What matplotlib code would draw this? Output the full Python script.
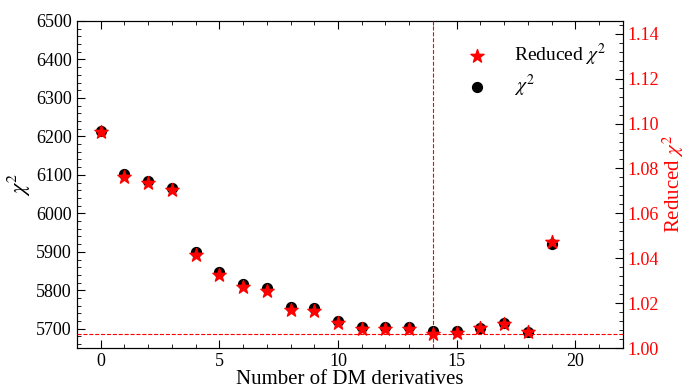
import numpy as np
import matplotlib.pyplot as plt
from matplotlib.ticker import AutoMinorLocator, MultipleLocator

plt.rcParams.update({
    "font.family": "Liberation Serif",
    "mathtext.fontset": "stix",
    "font.size": 13,
    "xtick.direction": "in",
    "ytick.direction": "in",
    "xtick.top": True,
})

n_derivs = np.arange(20)
chi2 = [6215, 6102, 6085, 6067, 5900, 5847, 5817, 5806, 5757, 5753,
        5721, 5705, 5705, 5704, 5693, 5693, 5703, 5715, 5692, 5920]
red_chi2 = [1.0963, 1.0763, 1.0735, 1.0705, 1.0414, 1.0324, 1.0272, 1.0254, 1.0169, 1.0163,
            1.0110, 1.0085, 1.0085, 1.0085, 1.0064, 1.0065, 1.0089, 1.0108, 1.0070, 1.0471]
best_n = 14

fig, ax = plt.subplots(figsize=(6.86, 3.88), dpi=100)
fig.subplots_adjust(left=0.112, right=0.908, top=0.946, bottom=0.103)

p1 = ax.scatter(n_derivs, chi2, s=50, color="black", label=r"$\chi^2$", zorder=2)
ax.set_xlim(-1, 22)
ax.set_ylim(5650, 6500)
ax.set_xlabel("Number of DM derivatives", fontsize=15, labelpad=0)
ax.set_ylabel(r"$\chi^2$", fontsize=16, labelpad=2)
ax.xaxis.set_major_locator(MultipleLocator(5))
ax.xaxis.set_minor_locator(AutoMinorLocator(5))
ax.yaxis.set_minor_locator(AutoMinorLocator(5))
ax.tick_params(which="major", length=6)
ax.tick_params(which="minor", length=3)

ax2 = ax.twinx()
p2 = ax2.scatter(n_derivs, red_chi2, s=100, marker="*", color="red", label=r"Reduced $\chi^2$", zorder=3)
ax2.set_ylim(1.0, 1.1457)
ax2.yaxis.set_major_locator(MultipleLocator(0.02))
ax2.yaxis.set_minor_locator(AutoMinorLocator(5))
ax2.tick_params(axis="y", which="both", labelcolor="red", color="black", direction="in")
ax2.tick_params(which="major", length=6)
ax2.tick_params(which="minor", length=3)
ax2.yaxis.set_major_formatter(plt.FormatStrFormatter("%.2f"))
ax2.set_ylabel(r"Reduced $\chi^2$", color="red", fontsize=15, labelpad=1)

ax2.axhline(min(red_chi2), color="red", ls="--", lw=0.8, zorder=4)
ax2.axvline(best_n, color="red", ls="--", lw=0.8, zorder=4)

ax2.legend([p2, p1], [r"Reduced $\chi^2$", r"$\chi^2$"], loc="upper right",
           frameon=False, fontsize=14, labelspacing=0.25, handletextpad=0.9,
           bbox_to_anchor=(1.0, 0.99))

fig.savefig("out.png", dpi=100)
